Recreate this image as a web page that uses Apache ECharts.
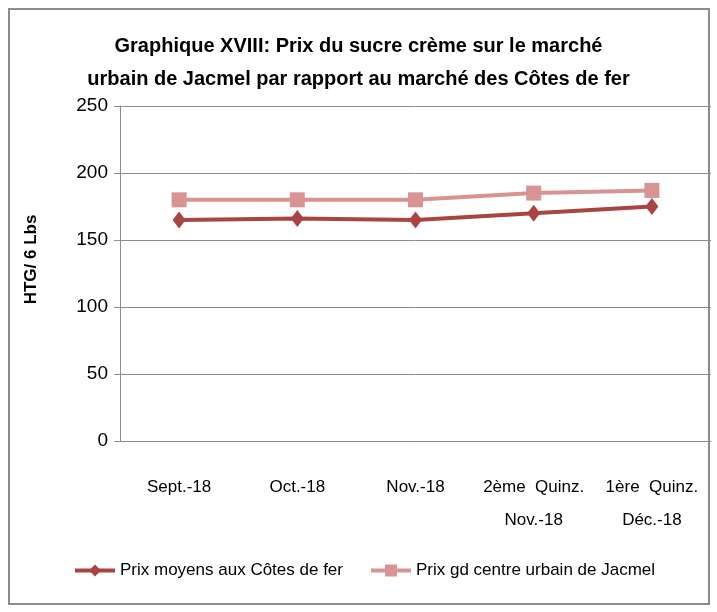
<!DOCTYPE html>
<html>
<head>
<meta charset="utf-8">
<script src="https://cdn.jsdelivr.net/npm/echarts@6/dist/echarts.min.js"></script>
<style>
  html, body { margin: 0; padding: 0; background: #fff; }
  #chart { width: 717px; height: 612px; }
  #frame { position: absolute; left: 8px; top: 8px; width: 702px; height: 597px; border: 2px solid #8c8c8c; box-sizing: border-box; pointer-events: none; }
</style>
</head>
<body>
<div id="chart"></div>
<div id="frame"></div>
<script>
// data
var categories = ['Sept.-18', 'Oct.-18', 'Nov.-18', '2ème  Quinz.\nNov.-18', '1ère  Quinz.\nDéc.-18'];
var cotesDeFer = [165, 166, 165, 170, 175];
var jacmel = [180, 180, 180, 185, 187];
var seriesNames = ['Prix moyens aux Côtes de fer', 'Prix gd centre urbain de Jacmel'];

var font = '"Liberation Sans Narrow", "Liberation Sans", sans-serif';

var chart = echarts.init(document.getElementById('chart'));

chart.setOption({
  animation: false,
  textStyle: { fontFamily: font },
  title: {
    text: 'Graphique XVIII: Prix du sucre crème sur le marché\nurbain de Jacmel par rapport au marché des Côtes de fer',
    left: 'center',
    top: 25,
    textStyle: { fontFamily: font, fontSize: 20, fontWeight: 'bold', color: '#000', lineHeight: 33 }
  },
  legend: {
    bottom: 28,
    left: 68,
    itemWidth: 40,
    itemHeight: 15,
    itemGap: 26,
    lineStyle: { width: 4 },
    textStyle: { fontFamily: font, fontSize: 17, color: '#000' },
    data: seriesNames
  },
  grid: { left: 120, right: 6, top: 106, bottom: 171 },
  xAxis: {
    type: 'category',
    data: categories,
    boundaryGap: true,
    axisLine: { lineStyle: { color: '#8c8c8c' } },
    axisTick: { lineStyle: { color: '#8c8c8c' }, length: 6 },
    axisLabel: { color: '#000', fontSize: 17, fontFamily: font, margin: 30, lineHeight: 33, interval: 0 }
  },
  yAxis: {
    type: 'value',
    min: 0,
    max: 250,
    interval: 50,
    name: 'HTG/ 6 Lbs',
    nameLocation: 'middle',
    nameGap: 80,
    nameTextStyle: { fontFamily: font, fontSize: 17, fontWeight: 'bold', color: '#000', padding: [0, 0, 0, 28] },
    axisLine: { show: true, lineStyle: { color: '#8c8c8c' } },
    axisTick: { show: true, length: 6, lineStyle: { color: '#8c8c8c' } },
    axisLabel: { color: '#000', fontSize: 19, fontFamily: font, margin: 12 },
    splitLine: { lineStyle: { color: '#8c8c8c' } }
  },
  series: [
    {
      name: seriesNames[0],
      type: 'line',
      data: cotesDeFer,
      symbol: 'diamond',
      symbolSize: [13, 17],
      lineStyle: { color: '#a94442', width: 4 },
      itemStyle: { color: '#a94442' },
      z: 3
    },
    {
      name: seriesNames[1],
      type: 'line',
      data: jacmel,
      symbol: 'rect',
      symbolSize: 15,
      lineStyle: { color: '#d79492', width: 4 },
      itemStyle: { color: '#d79492' },
      z: 2
    }
  ]
});
</script>
</body>
</html>
